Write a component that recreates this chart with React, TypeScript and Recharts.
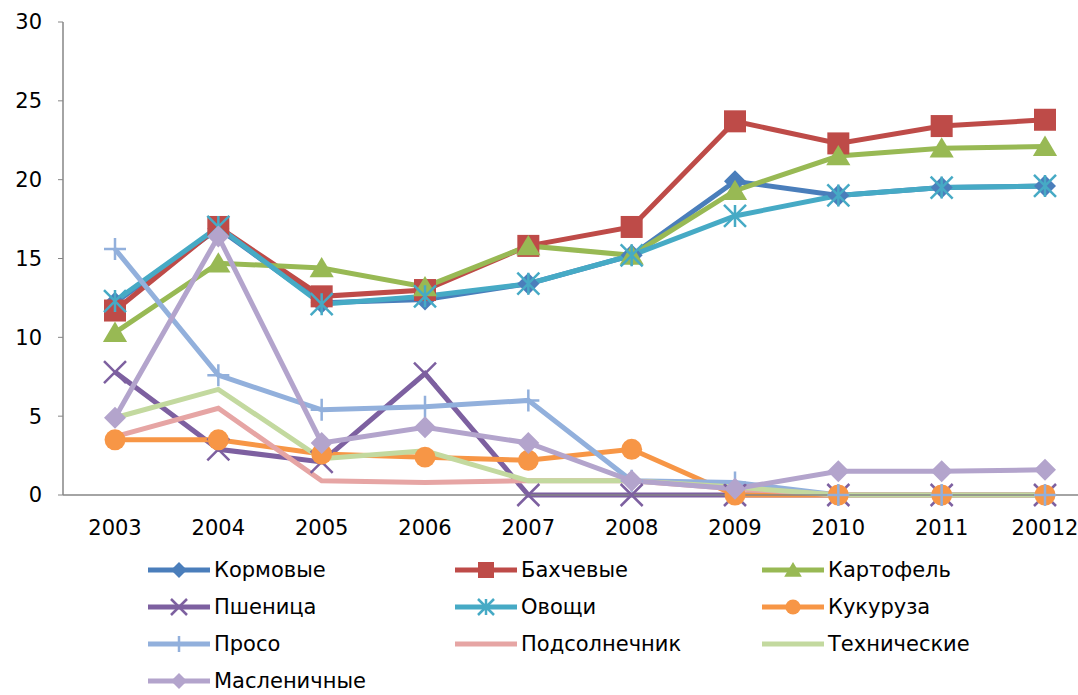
import React from 'react'
import { LineChart, Line, XAxis, YAxis } from 'recharts'

const years = ['2003', '2004', '2005', '2006', '2007', '2008', '2009', '2010', '2011', '20012']

const kormovye = [12.2, 16.9, 12.2, 12.4, 13.4, 15.2, 19.9, 19.0, 19.5, 19.6]
const bakhchevye = [11.7, 17.0, 12.6, 13.0, 15.8, 17.0, 23.7, 22.3, 23.4, 23.8]
const kartofel = [10.3, 14.7, 14.4, 13.2, 15.8, 15.2, 19.3, 21.5, 22.0, 22.1]
const pshenitsa = [7.8, 2.9, 2.1, 7.7, 0, 0, 0, 0, 0, 0]
const ovoshchi = [12.3, 17.0, 12.1, 12.6, 13.4, 15.2, 17.7, 19.0, 19.5, 19.6]
const kukuruza = [3.5, 3.5, 2.6, 2.4, 2.2, 2.9, 0, 0, 0, 0]
const proso = [15.6, 7.6, 5.4, 5.6, 6.0, 0.9, 0.8, 0, 0, 0]
const podsolnechnik = [3.7, 5.5, 0.9, 0.8, 0.9, 0.9, 0.4, 0, 0, 0]
const tekhnicheskie = [4.9, 6.7, 2.3, 2.8, 0.9, 0.9, 0.5, 0, 0, 0]
const maslenichnye = [4.9, 16.4, 3.3, 4.3, 3.3, 0.9, 0.4, 1.5, 1.5, 1.6]

const yTicks = [0, 5, 10, 15, 20, 25, 30]

type Marker = 'diamond' | 'square' | 'triangle' | 'x' | 'star' | 'circle' | 'plus' | 'none'

const series: { key: string; name: string; color: string; marker: Marker; values: number[] }[] = [
  { key: 'kormovye', name: 'Кормовые', color: '#4A7EBB', marker: 'diamond', values: kormovye },
  { key: 'bakhchevye', name: 'Бахчевые', color: '#BE4B48', marker: 'square', values: bakhchevye },
  { key: 'kartofel', name: 'Картофель', color: '#98B954', marker: 'triangle', values: kartofel },
  { key: 'pshenitsa', name: 'Пшеница', color: '#7D60A0', marker: 'x', values: pshenitsa },
  { key: 'ovoshchi', name: 'Овощи', color: '#46AAC5', marker: 'star', values: ovoshchi },
  { key: 'kukuruza', name: 'Кукуруза', color: '#F79646', marker: 'circle', values: kukuruza },
  { key: 'proso', name: 'Просо', color: '#92B0DC', marker: 'plus', values: proso },
  { key: 'podsolnechnik', name: 'Подсолнечник', color: '#E6A5A4', marker: 'none', values: podsolnechnik },
  { key: 'tekhnicheskie', name: 'Технические', color: '#C3D99F', marker: 'none', values: tekhnicheskie },
  { key: 'maslenichnye', name: 'Масленичные', color: '#B3A4CC', marker: 'diamond', values: maslenichnye },
]

const data = years.map((year, i) => {
  const row: Record<string, string | number> = { year }
  series.forEach(s => { row[s.key] = s.values[i] })
  return row
})

const FONT = '"DejaVu Sans", sans-serif'
const AXIS = '#868686'

// marker glyph centred on (cx, cy), r = half size
function markerShape(kind: Marker, color: string, cx: number, cy: number, r: number) {
  switch (kind) {
    case 'diamond':
      return <path d={`M${cx},${cy - r} L${cx + r},${cy} L${cx},${cy + r} L${cx - r},${cy} Z`} fill={color} />
    case 'square':
      return <rect x={cx - r} y={cy - r} width={2 * r} height={2 * r} fill={color} />
    case 'triangle':
      return <path d={`M${cx},${cy - r} L${cx + r * 1.1},${cy + r * 0.85} L${cx - r * 1.1},${cy + r * 0.85} Z`} fill={color} />
    case 'circle':
      return <circle cx={cx} cy={cy} r={r * 0.95} fill={color} />
    case 'x':
      return (
        <path
          d={`M${cx - r},${cy - r} L${cx + r},${cy + r} M${cx + r},${cy - r} L${cx - r},${cy + r}`}
          stroke={color} strokeWidth={2.5} fill="none"
        />
      )
    case 'star':
      return (
        <path
          d={`M${cx - r},${cy - r} L${cx + r},${cy + r} M${cx + r},${cy - r} L${cx - r},${cy + r} M${cx},${cy - r} L${cx},${cy + r}`}
          stroke={color} strokeWidth={2.5} fill="none"
        />
      )
    case 'plus':
      return (
        <path
          d={`M${cx - r},${cy} L${cx + r},${cy} M${cx},${cy - r} L${cx},${cy + r}`}
          stroke={color} strokeWidth={2.5} fill="none"
        />
      )
    default:
      return null
  }
}

const makeDot = (kind: Marker, color: string) => (props: any) => {
  const { cx, cy, index } = props
  if (cx == null || cy == null) return <g key={`d-${index}`} />
  return <g key={`d-${index}`}>{markerShape(kind, color, cx, cy, 11)}</g>
}

export default function App() {
  return (
    <div style={{ position: 'fixed', left: 0, top: 0, width: 1078, height: 695, overflow: 'hidden', background: '#fff' }}>
      <LineChart
        width={1110}
        height={560}
        data={data}
        margin={{ top: 22, right: 13, left: 0, bottom: 0 }}
      >
        <XAxis
          dataKey="year"
          height={65}
          padding={{ left: 52, right: 52 }}
          axisLine={{ stroke: AXIS, strokeWidth: 1.5 }}
          tickLine={false}
          tickSize={6}
          tickMargin={19}
          tick={{ fontSize: 21, fill: '#000', fontFamily: FONT }}
          interval={0}
        />
        <YAxis
          width={63}
          domain={[0, 30]}
          ticks={yTicks}
          interval={0}
          axisLine={{ stroke: AXIS, strokeWidth: 1.5 }}
          tickLine={{ stroke: AXIS }}
          tickSize={5}
          tickMargin={16}
          tick={{ fontSize: 21, fill: '#000', fontFamily: FONT }}
        />
        {series.map(s => (
          <Line
            key={s.key}
            type="linear"
            dataKey={s.key}
            name={s.name}
            stroke={s.color}
            strokeWidth={5}
            dot={s.marker === 'none' ? false : makeDot(s.marker, s.color)}
            activeDot={false}
            isAnimationActive={false}
          />
        ))}
      </LineChart>

      {/* Легенда */}
      {series.map((s, i) => {
        const row = Math.floor(i / 3)
        const col = i % 3
        const left = [148, 455, 762][col]
        const top = 570 + row * 37
        return (
          <div
            key={s.key}
            style={{ position: 'absolute', left, top: top - 14, height: 28, display: 'flex', alignItems: 'center', fontFamily: FONT, fontSize: 21, color: '#000' }}
          >
            <svg width={62} height={28}>
              <line x1={0} y1={14} x2={62} y2={14} stroke={s.color} strokeWidth={5} />
              {markerShape(s.marker, s.color, 31, 14, 8)}
            </svg>
            <span style={{ marginLeft: 4, whiteSpace: 'nowrap' }}>{s.name}</span>
          </div>
        )
      })}
    </div>
  )
}
